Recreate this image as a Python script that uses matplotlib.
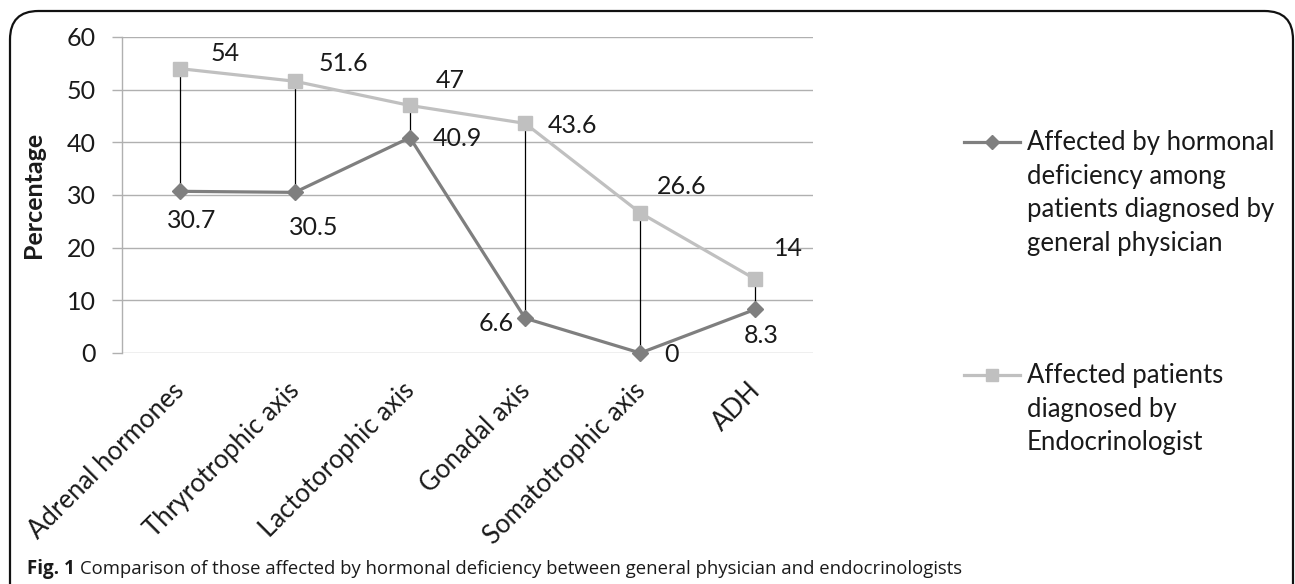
import numpy as np
import matplotlib.pyplot as plt
from matplotlib.patches import FancyBboxPatch
from matplotlib.lines import Line2D
from matplotlib.transforms import ScaledTranslation

categories = ['Adrenal hormones', 'Thryrotrophic axis', 'Lactotorophic axis',
              'Gonadal axis', 'Somatotrophic axis', 'ADH']
general = [30.7, 30.5, 40.9, 6.6, 0, 8.3]
endo = [54, 51.6, 47, 43.6, 26.6, 14]
general_label = 'Affected by hormonal\ndeficiency among\npatients diagnosed by\ngeneral physician'
endo_label = 'Affected patients\ndiagnosed by\nEndocrinologist'
caption = 'Comparison of those affected by hormonal deficiency between general physician and endocrinologists'

# label offsets in pixels (dx, dy)
general_off = [(12, -29), (19, -35), (48, -1), (-29, -5), (31, -2), (6, -26)]
endo_off = [(46, 15), (49, 18), (40, 25), (47, -2), (41, 26), (33, 31)]

W, H = 1295, 584
plt.rcParams['font.family'] = ['Lato', 'DejaVu Sans']
fig = plt.figure(figsize=(W / 100, H / 100), dpi=100)

def px(x0, y0, x1, y1):
    return [x0 / W, 1 - y1 / H, (x1 - x0) / W, (y1 - y0) / H]

ax = fig.add_axes(px(122, 37, 813, 353))
x = np.arange(len(categories)) + 0.5
dark = '#7f7f7f'
light = '#c0c0c0'
txt = '#1a1a1a'

ax.vlines(x, general, endo, color='black', lw=0.9, zorder=2)
ax.plot(x, general, color=dark, lw=2.3, marker='D', ms=8, zorder=3, clip_on=False)
ax.plot(x, endo, color=light, lw=2.3, marker='s', ms=10, zorder=3, clip_on=False)

for xi, v, o in zip(x, general, general_off):
    ax.annotate(f'{v:g}', (xi, v), xytext=o, textcoords='offset pixels',
                ha='center', va='center', fontsize=18, color=txt)
for xi, v, o in zip(x, endo, endo_off):
    ax.annotate(f'{v:g}', (xi, v), xytext=o, textcoords='offset pixels',
                ha='center', va='center', fontsize=18, color=txt)

ax.set_xlim(0, len(categories))
ax.set_ylim(0, 60)
ax.set_yticks(range(0, 61, 10))
ax.yaxis.grid(True, color='#b0b0b0', lw=1.0)
ax.set_axisbelow(True)
for s in ['top', 'right', 'bottom']:
    ax.spines[s].set_visible(False)
ax.spines['left'].set_color('#b0b0b0')
ax.spines['left'].set_linewidth(1.0)
ax.tick_params(axis='y', length=7, color='#b0b0b0', width=1.0, labelsize=18,
               labelcolor=txt, pad=12)
ax.set_xticks(x)
ax.set_xticklabels(categories, rotation=45, ha='right', va='top',
                   rotation_mode='anchor', fontsize=18.5, color=txt)
ax.tick_params(axis='x', length=0, pad=10)
shift = ScaledTranslation(-8 / 100, -11 / 100, fig.dpi_scale_trans)
for lbl in ax.get_xticklabels():
    lbl.set_transform(lbl.get_transform() + shift)
ax.set_ylabel('Percentage', fontsize=18, fontweight='bold', color=txt)
ax.yaxis.set_label_coords((45 - 122) / (813 - 122), 0.5)

# legend drawn by hand
tr = fig.transFigure
for yy, col, mk, ms, lab in [(142, dark, 'D', 7, general_label),
                             (375, light, 's', 9, endo_label)]:
    fig.add_artist(Line2D([964 / W, 1020 / W], [1 - yy / H] * 2, color=col, lw=2.3,
                          transform=tr))
    fig.add_artist(Line2D([992 / W], [1 - yy / H], color=col, marker=mk, ms=ms,
                          transform=tr))
    fig.text(1027 / W, 1 - (yy - 12) / H, lab, fontsize=18.5, color=txt,
             va='top', ha='left', linespacing=1.43)

# rounded frame
frame = FancyBboxPatch((10 / W, -0.05), (1293 - 10) / W, 1.05 - 11 / H,
                       boxstyle='round,pad=0,rounding_size=0.022',
                       transform=tr, fill=False, ec='#111111', lw=1.6,
                       mutation_aspect=W / H)
fig.add_artist(frame)

# caption: bold "Fig. 1" then the text, sized to end where the original does
cap_font = ['Open Sans', 'DejaVu Sans']
cap_y = 1 - 569 / H
t = fig.text(27 / W, cap_y, 'Fig. 1', fontsize=13.5, fontweight='bold',
             family=cap_font, va='center', ha='left', color=txt)
c = fig.text(0, cap_y, caption, fontsize=12, family=cap_font,
             va='center', ha='left', color=txt)
fig.canvas.draw()
r = fig.canvas.get_renderer()
bb = t.get_window_extent(r)
cw = c.get_window_extent(r).width
size = 12 * (958 - (bb.x1 + 5)) / cw
c.set_fontsize(size)
c.set_x((bb.x1 + 5) / W)

fig.savefig('out.png', dpi=100)
